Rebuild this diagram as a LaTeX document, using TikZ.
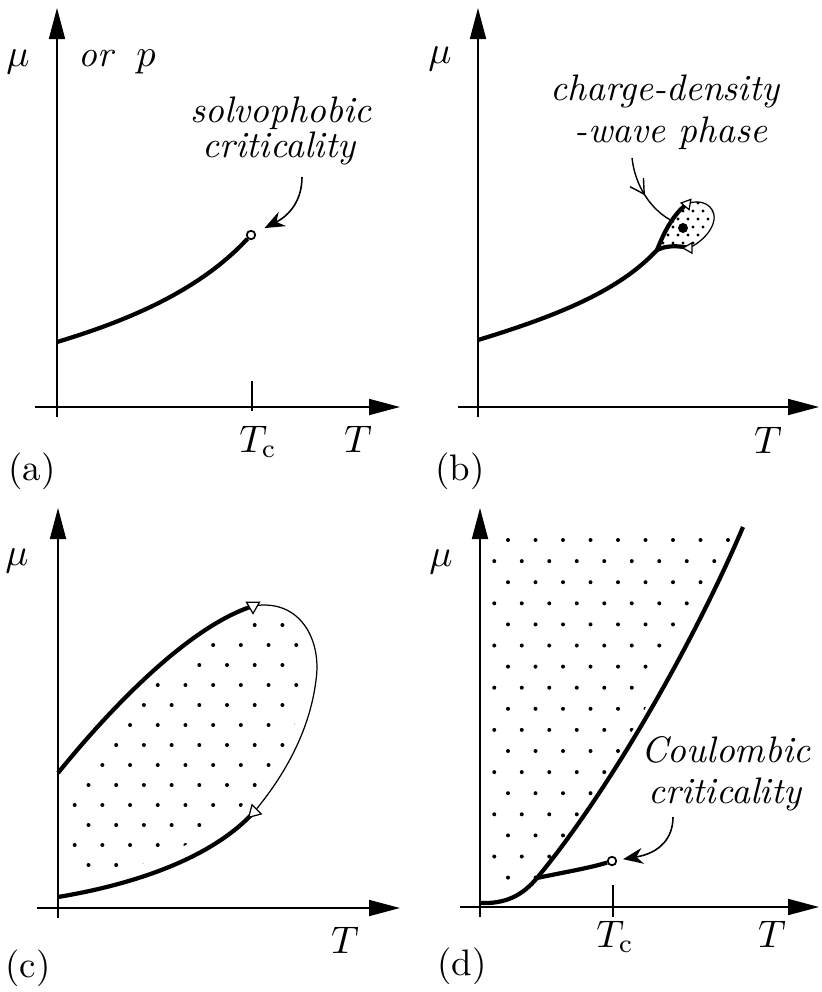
\documentclass[tikz,border=0pt]{standalone}
\usepackage{fontspec}
\usepackage{amsmath,amssymb}
\usepackage{tikz}
\usetikzlibrary{arrows.meta,shapes.geometric,decorations.markings}

\tikzset{
  axis/.style={line width=0.5pt, -{Triangle[length=3.1mm,width=1.6mm]}},
  tickline/.style={line width=0.5pt},
  phase/.style={line width=1.2pt},
  thinline/.style={line width=0.35pt},
  annot/.style={line width=0.45pt, -{Stealth[length=2mm,width=1.6mm]}},
  midarrow/.style={line width=0.4pt, postaction={decorate},
    decoration={markings, mark=at position 0.5 with {\arrow{Straight Barb[length=1.4mm,width=1.6mm]}}}},
  critpt/.style={circle, draw, fill=white, line width=0.5pt, minimum size=0.85mm, inner sep=0pt},
  endtri/.style={regular polygon, regular polygon sides=3, draw, fill=white, line width=0.35pt, minimum size=1.5mm, inner sep=0pt},
  bigdot/.style={circle, fill=black, minimum size=1mm, inner sep=0pt},
  lbl/.style={anchor=base, inner sep=0pt, font=\fontsize{10.5}{12}\selectfont\itshape},
  axlbl/.style={anchor=base, inner sep=0pt, font=\fontsize{10.5}{12}\selectfont}
}

\begin{document}
\begin{tikzpicture}[x=0.1mm,y=-0.1mm]
\useasboundingbox (0,0) rectangle (821,992);

% (a) solvophobic criticality
\draw[axis] (57,417) coordinate (aYb) -- (57,8) coordinate (aYt);
\draw[axis] (35,407) coordinate (aXl) -- (400,407) coordinate (aXr);
\node[axlbl] (amu) at (18,66) {$\mu$};
\node[axlbl] (aorp) at (117,66) {\textit{or}\hspace{6pt}$p$};
\coordinate (aline) at (57,342);
\node[critpt] (acrit) at (251,235) {};
\draw[phase] (aline) .. controls (130,320) and (200,290) .. (acrit);
\node[lbl] (asolvo) at (281,122) {solvophobic};
\node[lbl] (acritl) at (279,157) {criticality};
\coordinate (aarr) at (302,177);
\draw[annot, shorten >=1mm] (aarr) .. controls (302,200) and (290,215) .. (acrit);
\draw[tickline] (252,381) coordinate (atickt) -- (252,411) coordinate (atickb);
\node[axlbl] (aTc) at (258,452) {$T_{\mathrm{c}}$};
\node[axlbl] (aT) at (358,452) {$T$};
\node[axlbl] (alab) at (32,480) {(a)};

% (b) charge-density-wave phase
\draw[axis] (478,417) coordinate (bYb) -- (478,8) coordinate (bYt);
\draw[axis] (458,407) coordinate (bXl) -- (819,407) coordinate (bXr);
\node[axlbl] (bmu) at (440,63) {$\mu$};
\coordinate (bline) at (478,340);
\coordinate (bjun) at (657,250);
\coordinate (btopc) at (687,204);
\coordinate (bbotc) at (689,248);
\begin{scope}
  \clip (bjun) .. controls (663,235) and (672,215) .. (btopc)
    .. controls (700,198) and (716,205) .. (714,220)
    .. controls (712,232) and (700,243) .. (bbotc)
    .. controls (676,245) and (665,246) .. (bjun) -- cycle;
  \foreach \i in {0,...,6}{
    \pgfmathsetmacro\xo{658+5*mod(\i,2)}
    \foreach \j in {0,...,6}
      \fill ({\xo+10*\j},{203+8*\i}) circle (0.16mm);
  }
\end{scope}
\draw[thinline] (btopc) .. controls (700,198) and (716,205) .. (714,220)
  .. controls (712,232) and (700,243) .. (bbotc);
\draw[phase] (bline) .. controls (560,315) and (620,290) .. (bjun)
  .. controls (663,235) and (672,215) .. (btopc);
\draw[phase] (bjun) .. controls (665,246) and (676,245) .. (bbotc);
\node[endtri, minimum size=1.2mm, shape border rotate=200] (btop) at (btopc) {};
\node[endtri, minimum size=1.2mm, shape border rotate=90] (bbot) at (bbotc) {};
\node[bigdot] (bcdw) at (683,228) {};
\node[lbl] (bcdw1) at (665,100) {charge-density};
\node[lbl] (bcdw2) at (671,142) {-wave phase};
\coordinate (barr) at (632,158);
\coordinate (barrend) at (674,222);
\draw[midarrow] (barr) .. controls (635,185) and (650,210) .. (barrend);
\node[axlbl] (bT) at (768,453) {$T$};
\node[axlbl] (blab) at (460,480) {(b)};

% (c) closed loop
\draw[axis] (58,918) coordinate (cYb) -- (58,508) coordinate (cYt);
\draw[axis] (37,908) coordinate (cXl) -- (400,908) coordinate (cXr);
\node[axlbl] (cmu) at (17,565) {$\mu$};
\coordinate (cup) at (58,773);
\coordinate (clow) at (58,897);
\coordinate (ctopc) at (253,606);
\coordinate (cbotc) at (254,812);
\begin{scope}
  \clip (66,782) .. controls (113,722) and (190,636) .. (253,618)
    .. controls (292,612) and (310,645) .. (306,680)
    .. controls (300,725) and (278,765) .. (248,800)
    .. controls (205,846) and (130,872) .. (66,884) -- cycle;
  \foreach \i in {0,...,12}{
    \pgfmathsetmacro\xo{60.8+13.85*mod(\i,2)}
    \foreach \j in {0,...,10}
      \fill ({\xo+27.7*\j},{625+20*\i}) circle (0.2mm);
  }
\end{scope}
\draw[thinline] (ctopc) .. controls (300,598) and (322,640) .. (316,680)
  .. controls (310,730) and (285,775) .. (cbotc);
\draw[phase] (cup) .. controls (105,715) and (185,628) .. (ctopc);
\draw[phase] (clow) .. controls (130,885) and (210,860) .. (cbotc);
\node[endtri, shape border rotate=180] (ctop) at (ctopc) {};
\node[endtri, shape border rotate=135] (cbot) at (cbotc) {};
\node[axlbl] (cT) at (345,953) {$T$};
\node[axlbl] (clab) at (28,977) {(c)};

% (d) Coulombic criticality
\draw[axis] (480,917) coordinate (dYb) -- (480,508) coordinate (dYt);
\draw[axis] (460,907) coordinate (dXl) -- (819,907) coordinate (dXr);
\node[axlbl] (dmu) at (441,566) {$\mu$};
\coordinate (dline) at (480,903);
\coordinate (djun) at (537,878);
\coordinate (dtop) at (743,527);
\begin{scope}
  \clip (490,530) -- (735,530) .. controls (688,640) and (603,790) .. (531,886)
    -- (490,886) -- cycle;
  \foreach \i in {0,...,16}{
    \pgfmathsetmacro\xo{508-13.75*mod(\i,2)}
    \foreach \j in {0,...,9}
      \fill ({\xo+27.5*\j},{540+21.1*\i}) circle (0.2mm);
  }
\end{scope}
\draw[phase] (dline) .. controls (505,904) and (522,896) .. (djun)
  .. controls (610,790) and (695,640) .. (dtop);
\node[critpt] (dcrit) at (612,861) {};
\draw[phase] (djun) .. controls (560,873) and (590,868) .. (dcrit);
\node[lbl] (dcoul) at (726,762) {Coulombic};
\node[lbl] (dcritl) at (725,803) {criticality};
\coordinate (darr) at (673,817);
\draw[annot, shorten >=0.6mm] (darr) .. controls (673,838) and (660,853) .. (dcrit);
\draw[tickline] (613,885) coordinate (dtickt) -- (613,917) coordinate (dtickb);
\node[axlbl] (dTc) at (615,947) {$T_{\mathrm{c}}$};
\node[axlbl] (dT) at (772,947) {$T$};
\node[axlbl] (dlab) at (462,975) {(d)};
\end{tikzpicture}
\end{document}
